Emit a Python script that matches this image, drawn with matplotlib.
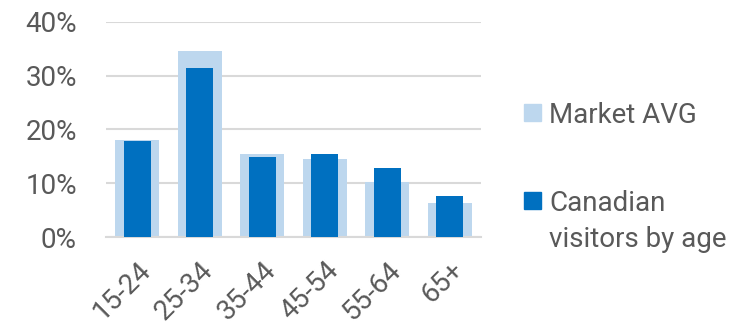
import numpy as np
import matplotlib.pyplot as plt
from matplotlib.patches import Rectangle

age_groups = ["15-24", "25-34", "35-44", "45-54", "55-64", "65+"]
market_avg = [0.181, 0.346, 0.155, 0.145, 0.103, 0.063]
canadian = [0.178, 0.314, 0.148, 0.154, 0.128, 0.076]
yticks = [0.0, 0.1, 0.2, 0.3, 0.4]

LIGHT = "#bdd7ee"
DARK = "#0070c0"
TEXT = "#595959"
FS = 20

plt.rcParams["font.family"] = ["Roboto", "DejaVu Sans"]

fig = plt.figure(figsize=(7.44, 3.36), dpi=100)
ax = fig.add_axes([0.1425, 0.2946, 0.504, 0.6408])

x = np.arange(len(age_groups))
ax.bar(x, market_avg, width=0.70, color=LIGHT, zorder=2)
ax.bar(x, canadian, width=0.43, color=DARK, zorder=3)

ax.set_xlim(-0.5, len(age_groups) - 0.5)
ax.set_ylim(0, 0.40)
ax.set_yticks(yticks)
ax.set_yticklabels([f"{int(round(v * 100))}%" for v in yticks])
ax.set_xticks(x)
ax.set_xticklabels(age_groups, rotation=45, ha="right", rotation_mode="anchor")

ax.grid(axis="y", color="#d9d9d9", linewidth=1.5, zorder=0)
for s in ["top", "right", "left"]:
    ax.spines[s].set_visible(False)
ax.spines["bottom"].set_color("#d9d9d9")
ax.spines["bottom"].set_linewidth(1.5)
ax.tick_params(axis="both", length=0, labelsize=FS, labelcolor=TEXT)
ax.tick_params(axis="y", pad=21)
ax.tick_params(axis="x", pad=14)

# legend, drawn by hand so the square lines up with the first text line
W, H = 744, 336
legend_items = [
    (LIGHT, ["Market AVG"], 112.5, [123]),
    (DARK, ["Canadian", "visitors by age"], 200.5, [210.7, 246.7]),
]
for color, lines, sq_y, baselines in legend_items:
    fig.patches.append(Rectangle((524 / W, 1 - (sq_y + 8.5) / H), 17 / W, 17 / H,
                                 transform=fig.transFigure, color=color))
    for line, b in zip(lines, baselines):
        fig.text(549 / W, 1 - b / H, line, fontsize=FS, color=TEXT,
                 ha="left", va="baseline")

fig.savefig("out.png", dpi=100)
